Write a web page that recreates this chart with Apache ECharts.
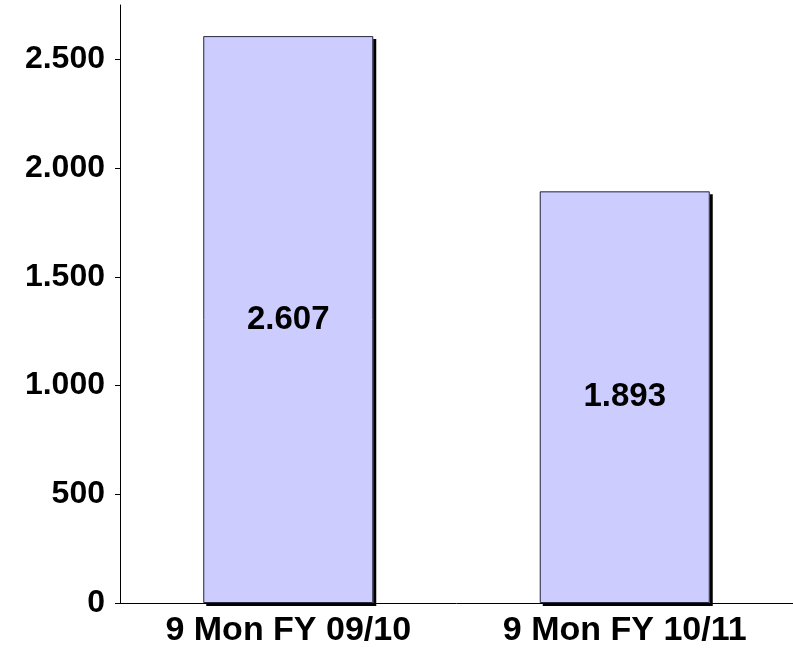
<!DOCTYPE html>
<html>
<head>
<meta charset="utf-8">
<script src="https://cdn.jsdelivr.net/npm/echarts@6/dist/echarts.min.js"></script>
<style>
  html, body { margin: 0; padding: 0; background: #fff; }
  #chart { width: 793px; height: 648px; }
</style>
</head>
<body>
<div id="chart"></div>
<script>
const categories = ["9 Mon FY 09/10", "9 Mon FY 10/11"];
const values = [2607, 1893];
const yTicks = [0, 500, 1000, 1500, 2000, 2500];

// 2607 -> "2.607"
function fmt(v) {
  return String(v).replace(/\B(?=(\d{3})+(?!\d))/g, ".");
}

const font = "Liberation Sans, Arial, sans-serif";
let chart = echarts.init(document.getElementById("chart"));
chart.setOption({
  animation: false,
  grid: { left: 120, right: 0, top: 5, bottom: 44 },
  xAxis: {
    type: "category",
    data: categories,
    axisLine: { lineStyle: { color: "#000", width: 1 } },
    axisTick: { show: false },
    axisLabel: {
      color: "#000", fontSize: 34, fontWeight: "bold", fontFamily: font, margin: 11
    }
  },
  yAxis: {
    type: "value",
    min: 0,
    max: 2750,
    axisLine: { show: true, lineStyle: { color: "#000", width: 1 } },
    axisTick: { show: true, length: 5, customValues: yTicks, lineStyle: { color: "#000" } },
    splitLine: { show: false },
    axisLabel: {
      customValues: yTicks,
      color: "#000", fontSize: 32, fontWeight: "bold", fontFamily: font, margin: 15,
      formatter: fmt
    }
  },
  series: [
    // shadow layer behind the bars
    {
      type: "bar",
      data: values,
      barWidth: 170,
      barGap: "-100%",
      silent: true,
      itemStyle: {
        color: "#ccccff",
        shadowColor: "#000",
        shadowOffsetX: 3,
        shadowOffsetY: 3,
        shadowBlur: 0
      }
    },
    {
      type: "bar",
      data: values,
      barWidth: 170,
      barGap: "-100%",
      itemStyle: {
        color: "#ccccff",
        borderColor: "#2a2a40",
        borderWidth: 1
      },
      label: {
        show: true,
        position: "inside",
        color: "#000",
        fontSize: 33,
        fontWeight: "bold",
        fontFamily: font,
        formatter: p => fmt(p.value)
      }
    }
  ]
});
</script>
</body>
</html>
